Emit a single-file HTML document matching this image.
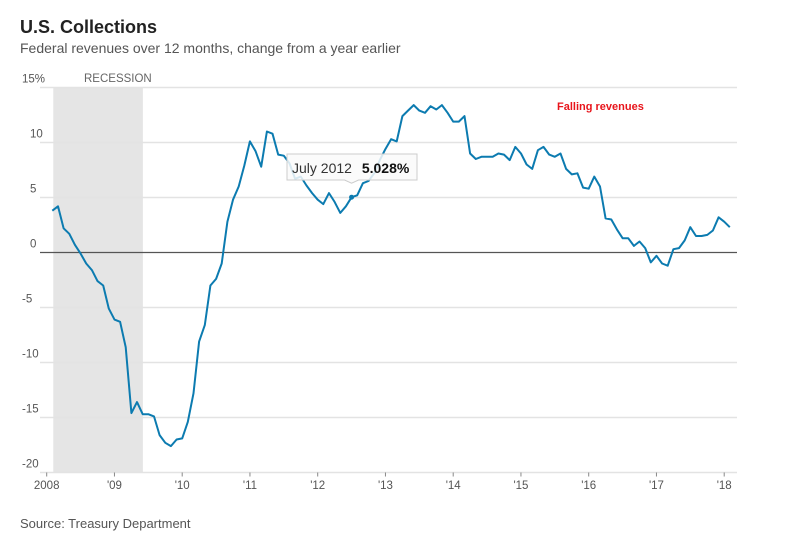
<!DOCTYPE html>
<html><head><meta charset="utf-8"><style>
body{margin:0;background:#fff;width:800px;height:541px;overflow:hidden;font-family:"Liberation Sans",sans-serif}
</style></head><body>
<svg width="800" height="541">
<text x="20" y="33" font-size="18" font-weight="bold" fill="#222">U.S. Collections</text>
<text x="20" y="53" font-size="14" fill="#555">Federal revenues over 12 months, change from a year earlier</text>
<g id="plot"></g>
<text x="20" y="528" font-size="13" fill="#555">Source: Treasury Department</text>
</svg>
<script>
const yTicks=[15,10,5,0,-5,-10,-15,-20];
const yTickLabels=["15%","10","5","0","-5","-10","-15","-20"];
const xTickYears=[2008,2009,2010,2011,2012,2013,2014,2015,2016,2017,2018];
const xTickLabels=["2008","'09","'10","'11","'12","'13","'14","'15","'16","'17","'18"];
const startMonth=1; // Feb 2008 (months since Jan 2008)
const values=[3.8,4.2,2.2,1.7,0.7,-0.1,-1.0,-1.6,-2.6,-3.0,-5.1,
-6.1,-6.3,-8.6,-14.6,-13.6,-14.7,-14.7,-14.9,-16.6,-17.3,-17.6,-17.0,
-16.9,-15.4,-12.8,-8.1,-6.6,-3.0,-2.4,-1.0,2.8,4.8,6.0,7.9,
10.1,9.2,7.8,11.0,10.8,8.9,8.8,8.1,6.7,6.9,6.1,5.4,
4.8,4.4,5.4,4.6,3.6,4.2,5.028,5.2,6.3,6.5,7.2,8.4,
9.4,10.3,10.1,12.4,12.9,13.4,12.9,12.7,13.3,13.0,13.4,12.7,
11.9,11.9,12.4,9.0,8.5,8.7,8.7,8.7,9.0,8.9,8.4,9.6,
9.0,8.0,7.6,9.3,9.6,8.9,8.7,9.0,7.6,7.1,7.2,5.9,
5.8,6.9,6.0,3.1,3.0,2.1,1.3,1.3,0.6,1.0,0.4,-0.9,
-0.3,-1.0,-1.2,0.3,0.4,1.1,2.3,1.5,1.5,1.6,2.0,3.2,
2.8,2.3];
const recession=[2008.097,2009.42];
const highlightIndex=53; // July 2012

const NS="http://www.w3.org/2000/svg";
const g=document.getElementById('plot');
const x0=46.7,pxYear=67.75,y0=252.5,pxUnit=11,xL=40,xR=737;
const xs=t=>x0+(t-2008)*pxYear;
const xm=i=>x0+(startMonth+i)*pxYear/12;
const ys=v=>y0-v*pxUnit;
function mk(tag,attrs,parent){const e=document.createElementNS(NS,tag);for(const k in attrs)e.setAttribute(k,attrs[k]);(parent||g).appendChild(e);return e;}

let r=mk('rect',{x:xs(recession[0]),y:ys(15),width:xs(recession[1])-xs(recession[0]),height:ys(-20)-ys(15),fill:'#e5e5e5'});


let rt=mk('text',{x:84,y:82,'font-size':11.5,fill:'#666'});rt.textContent='RECESSION';



yTicks.forEach((v,i)=>{
  const y=ys(v);
  if(v!==0&&v!==-20){const l=mk('line',{x1:xL,x2:xR,y1:y,y2:y,stroke:'#e3e3e3','stroke-width':1.5});
  
  }
  const t=mk('text',{x:i==0?22:(v<0?22:30),y:y-5,'font-size':11.5,fill:'#555'});t.textContent=yTickLabels[i];
  
  
});
let ax=mk('line',{x1:xL,x2:xR,y1:ys(-20),y2:ys(-20),stroke:'#e3e3e3','stroke-width':1.5});


let zl=mk('line',{x1:xL,x2:xR,y1:ys(0),y2:ys(0),stroke:'#555','stroke-width':1.3});



xTickYears.forEach((yr,i)=>{
  const x=xs(yr);
  const tk=mk('line',{x1:x,x2:x,y1:ys(-20),y2:ys(-20)+4,stroke:'#888'});
  
  
  const t=mk('text',{x:x,y:489,'font-size':11.5,fill:'#555','text-anchor':'middle'});t.textContent=xTickLabels[i];
  
  
});

const pts=values.map((v,i)=>xm(i).toFixed(1)+','+ys(v).toFixed(1)).join(' ');
let pl=mk('polyline',{points:pts,fill:'none',stroke:'#0c7bb0','stroke-width':2,'stroke-linejoin':'round'});



const hx=xm(highlightIndex),hy=ys(values[highlightIndex]);
let dot=mk('circle',{cx:hx,cy:hy,r:2.5,fill:'#0c7bb0'});



const tg=mk('g',{});


mk('path',{d:`M287,154 H417 V180 H${hx+7} L${hx},${hy-14} L${hx-7},180 H287 Z`,fill:'rgba(250,250,250,0.85)',stroke:'#ccc'},tg);
const tt=mk('text',{x:292,y:173,'font-size':14,fill:'#333'},tg);
tt.innerHTML='July 2012 <tspan font-weight="bold" fill="#111" dx="6">'+values[highlightIndex].toFixed(3)+'%</tspan>';

let fr=mk('text',{x:557,y:110,'font-size':11,'font-weight':'bold',fill:'#e8141b'});fr.textContent='Falling revenues';


</script>
</body></html>
